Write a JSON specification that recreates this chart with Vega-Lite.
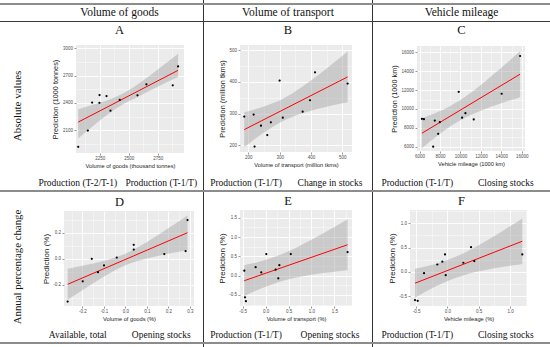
{
"$schema":"https://vega.github.io/schema/vega-lite/v6.json",
"padding":0,
"background":"white",
"spacing":0,
"datasets":{
"pts":[
{"p":"A","x":2064,"y":1918},{"p":"A","x":2147,"y":2096},{"p":"A","x":2184,"y":2403},{"p":"A","x":2247,"y":2400},{"p":"A","x":2248,"y":2486},{"p":"A","x":2308,"y":2475},{"p":"A","x":2342,"y":2314},{"p":"A","x":2422,"y":2432},{"p":"A","x":2575,"y":2483},{"p":"A","x":2652,"y":2603},{"p":"A","x":2879,"y":2593},{"p":"A","x":2925,"y":2800},
{"p":"B","x":187,"y":290.5},{"p":"B","x":217,"y":297},{"p":"B","x":220,"y":196},{"p":"B","x":240.5,"y":262},{"p":"B","x":260.6,"y":232.5},{"p":"B","x":272,"y":272.5},{"p":"B","x":300,"y":404},{"p":"B","x":310,"y":287},{"p":"B","x":373.5,"y":306},{"p":"B","x":397,"y":342},{"p":"B","x":413,"y":430},{"p":"B","x":517,"y":394.6},
{"p":"C","x":6234,"y":8952},{"p":"C","x":6430,"y":8910},{"p":"C","x":7493,"y":8772},{"p":"C","x":7337,"y":6000},{"p":"C","x":7825,"y":7365},{"p":"C","x":7981,"y":8593},{"p":"C","x":9835,"y":11820},{"p":"C","x":10166,"y":9069},{"p":"C","x":10488,"y":9556},{"p":"C","x":11301,"y":8888},{"p":"C","x":14030,"y":11609},{"p":"C","x":15834,"y":15608},
{"p":"D","x":-0.268,"y":-0.327},{"p":"D","x":-0.198,"y":-0.172},{"p":"D","x":-0.156,"y":0.0},{"p":"D","x":-0.127,"y":-0.102},{"p":"D","x":-0.099,"y":-0.051},{"p":"D","x":-0.04,"y":0.01},{"p":"D","x":0.039,"y":0.107},{"p":"D","x":0.039,"y":0.071},{"p":"D","x":0.181,"y":0.036},{"p":"D","x":0.28,"y":0.059},{"p":"D","x":0.289,"y":0.297},
{"p":"E","x":-0.465,"y":0.13},{"p":"E","x":-0.45,"y":-0.56},{"p":"E","x":-0.43,"y":-0.66},{"p":"E","x":-0.218,"y":0.22},{"p":"E","x":-0.094,"y":0.085},{"p":"E","x":0.015,"y":0.56},{"p":"E","x":0.218,"y":0.155},{"p":"E","x":0.3,"y":0.27},{"p":"E","x":0.277,"y":-0.07},{"p":"E","x":0.55,"y":0.56},{"p":"E","x":1.79,"y":0.61},
{"p":"F","x":-0.516,"y":-0.583},{"p":"F","x":-0.473,"y":-0.6},{"p":"F","x":-0.372,"y":-0.03},{"p":"F","x":-0.16,"y":0.15},{"p":"F","x":-0.08,"y":0.207},{"p":"F","x":-0.037,"y":0.357},{"p":"F","x":-0.026,"y":-0.07},{"p":"F","x":0.255,"y":0.186},{"p":"F","x":0.378,"y":0.508},{"p":"F","x":0.43,"y":0.22},{"p":"F","x":1.196,"y":0.357}
],
"fit":[
{"p":"A","x":2064,"y":2189},{"p":"A","x":2925,"y":2757},
{"p":"B","x":187,"y":249.5},{"p":"B","x":517,"y":415.5},
{"p":"C","x":6234,"y":7430},{"p":"C","x":15834,"y":13683},
{"p":"D","x":-0.268,"y":-0.195},{"p":"D","x":0.289,"y":0.2},
{"p":"E","x":-0.465,"y":-0.13},{"p":"E","x":1.79,"y":0.8},
{"p":"F","x":-0.516,"y":-0.236},{"p":"F","x":1.196,"y":0.63}
],
"band":[
{"p":"A","x":2064,"lo":2010,"hi":2330},{"p":"A","x":2150,"lo":2101,"hi":2362},{"p":"A","x":2250,"lo":2206,"hi":2401},{"p":"A","x":2350,"lo":2303,"hi":2446},{"p":"A","x":2450,"lo":2384,"hi":2504},{"p":"A","x":2550,"lo":2449,"hi":2580},{"p":"A","x":2650,"lo":2513,"hi":2670},{"p":"A","x":2750,"lo":2576,"hi":2766},{"p":"A","x":2850,"lo":2639,"hi":2865},{"p":"A","x":2925,"lo":2685,"hi":2940},
{"p":"B","x":187,"lo":194.5,"hi":304.5},{"p":"B","x":220,"lo":219.2,"hi":313},{"p":"B","x":250,"lo":240.3,"hi":322.1},{"p":"B","x":280,"lo":259.5,"hi":333.1},{"p":"B","x":309,"lo":275.5,"hi":346.3},{"p":"B","x":340,"lo":289.5,"hi":363.5},{"p":"B","x":380,"lo":303.5,"hi":389.7},{"p":"B","x":420,"lo":314.5,"hi":418.9},{"p":"B","x":460,"lo":323.8,"hi":449.8},{"p":"B","x":517,"lo":335.5,"hi":495.5},
{"p":"C","x":6234,"lo":5845,"hi":9015},{"p":"C","x":7000,"lo":6530,"hi":9328},{"p":"C","x":8000,"lo":7376,"hi":9784},{"p":"C","x":9000,"lo":8143,"hi":10321},{"p":"C","x":9580,"lo":8540,"hi":10680},{"p":"C","x":10500,"lo":9092,"hi":11326},{"p":"C","x":11500,"lo":9597,"hi":12123},{"p":"C","x":12500,"lo":10033,"hi":12990},{"p":"C","x":13500,"lo":10425,"hi":13901},{"p":"C","x":14500,"lo":10789,"hi":14840},{"p":"C","x":15834,"lo":11249,"hi":16117},
{"p":"D","x":-0.268,"lo":-0.314,"hi":-0.076},{"p":"D","x":-0.2,"lo":-0.2402,"hi":-0.0534},{"p":"D","x":-0.12,"lo":-0.156,"hi":-0.0242},{"p":"D","x":-0.05,"lo":-0.0891,"hi":0.0081},{"p":"D","x":0.0,"lo":-0.0497,"hi":0.0397},{"p":"D","x":0.06,"lo":-0.0149,"hi":0.0899},{"p":"D","x":0.13,"lo":0.0148,"hi":0.1594},{"p":"D","x":0.21,"lo":0.043,"hi":0.2448},{"p":"D","x":0.289,"lo":0.0685,"hi":0.3315},
{"p":"E","x":-0.465,"lo":-0.53,"hi":0.27},{"p":"E","x":-0.3,"lo":-0.4363,"hi":0.3125},{"p":"E","x":-0.1,"lo":-0.3322,"hi":0.3734},{"p":"E","x":0.136,"lo":-0.2256,"hi":0.4614},{"p":"E","x":0.4,"lo":-0.1283,"hi":0.5819},{"p":"E","x":0.7,"lo":-0.0433,"hi":0.7445},{"p":"E","x":1.0,"lo":0.0215,"hi":0.9273},{"p":"E","x":1.3,"lo":0.0726,"hi":1.1236},{"p":"E","x":1.55,"lo":0.1086,"hi":1.294},{"p":"E","x":1.79,"lo":0.1387,"hi":1.4613},
{"p":"F","x":-0.516,"lo":-0.5361,"hi":0.0641},{"p":"F","x":-0.35,"lo":-0.4136,"hi":0.1096},{"p":"F","x":-0.15,"lo":-0.2793,"hi":0.1775},{"p":"F","x":0.054,"lo":-0.1636,"hi":0.2682},{"p":"F","x":0.25,"lo":-0.0761,"hi":0.3789},{"p":"F","x":0.45,"lo":-0.0073,"hi":0.5125},{"p":"F","x":0.65,"lo":0.047,"hi":0.6604},{"p":"F","x":0.85,"lo":0.0925,"hi":0.8173},{"p":"F","x":1.05,"lo":0.1327,"hi":0.9795},{"p":"F","x":1.196,"lo":0.1599,"hi":1.1001}
]
},
"vconcat":[
{"hconcat":[
 {"width":36,"height":3,"data":{"values":[]},"mark":"point"},
 {"width":167,"height":3,"data":{"values":[]},"mark":"point"},
 {"width":1,"height":3,"view":{"fill":"#333333"},"data":{"values":[]},"mark":"point"},
 {"width":168,"height":3,"data":{"values":[]},"mark":"point"},
 {"width":1,"height":3,"view":{"fill":"#333333"},"data":{"values":[]},"mark":"point"},
 {"width":177,"height":3,"data":{"values":[]},"mark":"point"}
],"spacing":0,"bounds":"flush"},
{"width":550,"height":2,"view":{"fill":"#8c8c8c"},"data":{"values":[]},"mark":"point"},
{"hconcat":[
 {"width":36,"height":16,"data":{"values":[]},"mark":"point"},
 {"width":167,"height":16,"data":{"values":[{"t":"Volume of goods"}]},"mark":{"type":"text","font":"Liberation Serif","fontSize":11.5},"encoding":{"text":{"field":"t"}}},
 {"width":1,"height":16,"view":{"fill":"#333333"},"data":{"values":[]},"mark":"point"},
 {"width":168,"height":16,"data":{"values":[{"t":"Volume of transport"}]},"mark":{"type":"text","font":"Liberation Serif","fontSize":11.5},"encoding":{"text":{"field":"t"}}},
 {"width":1,"height":16,"view":{"fill":"#333333"},"data":{"values":[]},"mark":"point"},
 {"width":177,"height":16,"data":{"values":[{"t":"Vehicle mileage"}]},"mark":{"type":"text","font":"Liberation Serif","fontSize":11.5},"encoding":{"text":{"field":"t"}}}
],"spacing":0,"bounds":"flush"},
{"width":550,"height":1,"view":{"fill":"#3a3a3a"},"data":{"values":[]},"mark":"point"},
{"hconcat":[
 {"width":36,"height":168,"data":{"values":[{"t":"Absolute values"}]},"mark":{"type":"text","font":"Liberation Serif","fontSize":11,"angle":270},"encoding":{"text":{"field":"t"}}},
 {"vconcat":[
  {"width":167,"height":23,"data":{"values":[{"t":"A"}]},"mark":{"type":"text","font":"Liberation Serif","fontSize":12.5,"baseline":"alphabetic"},"encoding":{"text":{"field":"t"}}},
  {"hconcat":[
   {"width":40,"height":131,"data":{"values":[]},"mark":"point"},
   {"width":108,"height":108,"view":{"fill":"#ebebeb"},"resolve":{"axis":{"x":"independent","y":"independent"}},
    "layer":[
     {"data":{"name":"band"},"transform":[{"filter":"datum.p=='A'"}],"mark":{"type":"area","color":"#999999","opacity":0.4,"interpolate":"monotone"},
      "encoding":{"x":{"field":"x","type":"quantitative","scale":{"domain":[2045,2976],"nice":false,"zero":false},"axis":{"orient":"top","values":[2125,2375,2625,2875],"grid":true,"gridWidth":0.4,"labels":false,"ticks":false,"domain":false,"title":null,"minExtent":0}},
       "y":{"field":"hi","type":"quantitative","scale":{"domain":[1850,3035],"nice":false,"zero":false},"axis":{"orient":"right","values":[1950,2250,2550,2850],"grid":true,"gridWidth":0.4,"labels":false,"ticks":false,"domain":false,"title":null,"minExtent":0}},
       "y2":{"field":"lo"}}},
     {"data":{"name":"fit"},"transform":[{"filter":"datum.p=='A'"}],"mark":{"type":"line","color":"#ff0000","strokeWidth":1},
      "encoding":{"x":{"field":"x","type":"quantitative","scale":{"domain":[2045,2976],"nice":false,"zero":false},"axis":null},"y":{"field":"y","type":"quantitative","scale":{"domain":[1850,3035],"nice":false,"zero":false},"axis":null}}},
     {"data":{"name":"pts"},"transform":[{"filter":"datum.p=='A'"}],"mark":{"type":"circle","color":"#000000","size":5,"opacity":1},
      "encoding":{"x":{"field":"x","type":"quantitative","scale":{"domain":[2045,2976],"nice":false,"zero":false},"axis":{"orient":"bottom","values":[2250,2500,2750],"format":"d","grid":true,"title":"Volume of goods (thousand tonnes)"}},
       "y":{"field":"y","type":"quantitative","scale":{"domain":[1850,3035],"nice":false,"zero":false},"axis":{"orient":"left","values":[2100,2400,2700,3000],"format":"d","grid":true,"title":"Prediction (1000 tonnes)","titleFontSize":7.3}}}}
    ]},
   {"width":19,"height":131,"data":{"values":[]},"mark":"point"}
  ],"spacing":0,"bounds":"flush"},
  {"width":167,"height":14,"data":{"values":[{"s":"a","t":"Production (T-2/T-1)"},{"s":"b","t":"Production (T-1/T)"}]},"mark":{"type":"text","font":"Liberation Serif","fontSize":9.5},"encoding":{"x":{"field":"s","type":"nominal","axis":null,"scale":{"type":"point","padding":0.5}},"text":{"field":"t"}}}
 ],"spacing":0},
 {"width":1,"height":168,"view":{"fill":"#333333"},"data":{"values":[]},"mark":"point"},
 {"vconcat":[
  {"width":168,"height":23,"data":{"values":[{"t":"B"}]},"mark":{"type":"text","font":"Liberation Serif","fontSize":12.5,"baseline":"alphabetic"},"encoding":{"text":{"field":"t"}}},
  {"hconcat":[
   {"width":36,"height":131,"data":{"values":[]},"mark":"point"},
   {"width":112,"height":107,"view":{"fill":"#ebebeb"},"resolve":{"axis":{"x":"independent","y":"independent"}},
    "layer":[
     {"data":{"name":"band"},"transform":[{"filter":"datum.p=='B'"}],"mark":{"type":"area","color":"#999999","opacity":0.4,"interpolate":"monotone"},
      "encoding":{"x":{"field":"x","type":"quantitative","scale":{"domain":[173.5,531],"nice":false,"zero":false},"axis":{"orient":"top","values":[250,350,450],"grid":true,"gridWidth":0.4,"labels":false,"ticks":false,"domain":false,"title":null,"minExtent":0}},
       "y":{"field":"hi","type":"quantitative","scale":{"domain":[179,516],"nice":false,"zero":false},"axis":{"orient":"right","values":[250,350,450],"grid":true,"gridWidth":0.4,"labels":false,"ticks":false,"domain":false,"title":null,"minExtent":0}},
       "y2":{"field":"lo"}}},
     {"data":{"name":"fit"},"transform":[{"filter":"datum.p=='B'"}],"mark":{"type":"line","color":"#ff0000","strokeWidth":1},
      "encoding":{"x":{"field":"x","type":"quantitative","scale":{"domain":[173.5,531],"nice":false,"zero":false},"axis":null},"y":{"field":"y","type":"quantitative","scale":{"domain":[179,516],"nice":false,"zero":false},"axis":null}}},
     {"data":{"name":"pts"},"transform":[{"filter":"datum.p=='B'"}],"mark":{"type":"circle","color":"#000000","size":5,"opacity":1},
      "encoding":{"x":{"field":"x","type":"quantitative","scale":{"domain":[173.5,531],"nice":false,"zero":false},"axis":{"orient":"bottom","values":[200,300,400,500],"format":"d","grid":true,"title":"Volume of transport (million tkms)"}},
       "y":{"field":"y","type":"quantitative","scale":{"domain":[179,516],"nice":false,"zero":false},"axis":{"orient":"left","values":[200,300,400,500],"format":"d","grid":true,"title":"Prediction (million tkms)","titleFontSize":7.3}}}}
    ]},
   {"width":20,"height":131,"data":{"values":[]},"mark":"point"}
  ],"spacing":0,"bounds":"flush"},
  {"width":168,"height":14,"data":{"values":[{"s":"a","t":"Production (T-1/T)"},{"s":"b","t":"Change in stocks"}]},"mark":{"type":"text","font":"Liberation Serif","fontSize":9.5},"encoding":{"x":{"field":"s","type":"nominal","axis":null,"scale":{"type":"point","padding":0.5}},"text":{"field":"t"}}}
 ],"spacing":0},
 {"width":1,"height":168,"view":{"fill":"#333333"},"data":{"values":[]},"mark":"point"},
 {"vconcat":[
  {"width":177,"height":24,"data":{"values":[{"t":"C"}]},"mark":{"type":"text","font":"Liberation Serif","fontSize":12.5,"baseline":"alphabetic"},"encoding":{"text":{"field":"t"}}},
  {"hconcat":[
   {"width":44,"height":130,"data":{"values":[]},"mark":"point"},
   {"width":108,"height":105,"view":{"fill":"#ebebeb"},"resolve":{"axis":{"x":"independent","y":"independent"}},
    "layer":[
     {"data":{"name":"band"},"transform":[{"filter":"datum.p=='C'"}],"mark":{"type":"area","color":"#999999","opacity":0.4,"interpolate":"monotone"},
      "encoding":{"x":{"field":"x","type":"quantitative","scale":{"domain":[5754,16314],"nice":false,"zero":false},"axis":{"orient":"top","values":[7000,9000,11000,13000,15000],"grid":true,"gridWidth":0.4,"labels":false,"ticks":false,"domain":false,"title":null,"minExtent":0}},
       "y":{"field":"hi","type":"quantitative","scale":{"domain":[5545,16667],"nice":false,"zero":false},"axis":{"orient":"right","values":[7000,9000,11000,13000,15000],"grid":true,"gridWidth":0.4,"labels":false,"ticks":false,"domain":false,"title":null,"minExtent":0}},
       "y2":{"field":"lo"}}},
     {"data":{"name":"fit"},"transform":[{"filter":"datum.p=='C'"}],"mark":{"type":"line","color":"#ff0000","strokeWidth":1},
      "encoding":{"x":{"field":"x","type":"quantitative","scale":{"domain":[5754,16314],"nice":false,"zero":false},"axis":null},"y":{"field":"y","type":"quantitative","scale":{"domain":[5545,16667],"nice":false,"zero":false},"axis":null}}},
     {"data":{"name":"pts"},"transform":[{"filter":"datum.p=='C'"}],"mark":{"type":"circle","color":"#000000","size":5,"opacity":1},
      "encoding":{"x":{"field":"x","type":"quantitative","scale":{"domain":[5754,16314],"nice":false,"zero":false},"axis":{"orient":"bottom","values":[6000,8000,10000,12000,14000,16000],"format":"d","grid":true,"title":"Vehicle mileage (1000 km)"}},
       "y":{"field":"y","type":"quantitative","scale":{"domain":[5545,16667],"nice":false,"zero":false},"axis":{"orient":"left","values":[6000,8000,10000,12000,14000,16000],"format":"d","grid":true,"title":"Prediction (1000 km)","titleFontSize":7.3}}}}
    ]},
   {"width":25,"height":130,"data":{"values":[]},"mark":"point"}
  ],"spacing":0,"bounds":"flush"},
  {"width":177,"height":14,"data":{"values":[{"s":"a","t":"Production (T-1/T)"},{"s":"b","t":"Closing stocks"}]},"mark":{"type":"text","font":"Liberation Serif","fontSize":9.5},"encoding":{"x":{"field":"s","type":"nominal","axis":null,"scale":{"type":"point","padding":0.5}},"text":{"field":"t"}}}
 ],"spacing":0}
],"spacing":0},
{"width":550,"height":2,"view":{"fill":"#8c8c8c"},"data":{"values":[]},"mark":"point"},
{"hconcat":[
 {"width":36,"height":150,"data":{"values":[{"t":"Annual percentage change"}]},"mark":{"type":"text","font":"Liberation Serif","fontSize":10.8,"angle":270},"encoding":{"text":{"field":"t"}}},
 {"vconcat":[
  {"width":167,"height":19,"data":{"values":[{"t":"D"}]},"mark":{"type":"text","font":"Liberation Serif","fontSize":12.5,"baseline":"middle"},"encoding":{"text":{"field":"t"}}},
  {"hconcat":[
   {"width":28,"height":117,"data":{"values":[]},"mark":"point"},
   {"width":130,"height":95,"view":{"fill":"#ebebeb"},"resolve":{"axis":{"x":"independent","y":"independent"}},
    "layer":[
     {"data":{"name":"band"},"transform":[{"filter":"datum.p=='D'"}],"mark":{"type":"area","color":"#999999","opacity":0.4,"interpolate":"monotone"},
      "encoding":{"x":{"field":"x","type":"quantitative","scale":{"domain":[-0.285,0.319],"nice":false,"zero":false},"axis":{"orient":"top","values":[-0.25,-0.15,-0.05,0.05,0.15,0.25],"grid":true,"gridWidth":0.4,"labels":false,"ticks":false,"domain":false,"title":null,"minExtent":0}},
       "y":{"field":"hi","type":"quantitative","scale":{"domain":[-0.361,0.366],"nice":false,"zero":false},"axis":{"orient":"right","values":[-0.3,-0.1,0.1,0.3],"grid":true,"gridWidth":0.4,"labels":false,"ticks":false,"domain":false,"title":null,"minExtent":0}},
       "y2":{"field":"lo"}}},
     {"data":{"name":"fit"},"transform":[{"filter":"datum.p=='D'"}],"mark":{"type":"line","color":"#ff0000","strokeWidth":1},
      "encoding":{"x":{"field":"x","type":"quantitative","scale":{"domain":[-0.285,0.319],"nice":false,"zero":false},"axis":null},"y":{"field":"y","type":"quantitative","scale":{"domain":[-0.361,0.366],"nice":false,"zero":false},"axis":null}}},
     {"data":{"name":"pts"},"transform":[{"filter":"datum.p=='D'"}],"mark":{"type":"circle","color":"#000000","size":5,"opacity":1},
      "encoding":{"x":{"field":"x","type":"quantitative","scale":{"domain":[-0.285,0.319],"nice":false,"zero":false},"axis":{"orient":"bottom","values":[-0.2,-0.1,0,0.1,0.2,0.3],"labelExpr":"replace(format(datum.value, '.1f'), '\u2212', '-')","grid":true,"title":"Volume of goods (%)"}},
       "y":{"field":"y","type":"quantitative","scale":{"domain":[-0.361,0.366],"nice":false,"zero":false},"axis":{"orient":"left","values":[-0.2,0,0.2],"labelExpr":"replace(format(datum.value, '.1f'), '\u2212', '-')","grid":true,"title":"Prediction (%)","titleFontSize":8}}}}
    ]},
   {"width":9,"height":117,"data":{"values":[]},"mark":"point"}
  ],"spacing":0,"bounds":"flush"},
  {"width":167,"height":14,"data":{"values":[{"s":"a","t":"Available, total"},{"s":"b","t":"Opening stocks"}]},"mark":{"type":"text","font":"Liberation Serif","fontSize":9.5},"encoding":{"x":{"field":"s","type":"nominal","axis":null,"scale":{"type":"point","padding":0.5}},"text":{"field":"t"}}}
 ],"spacing":0},
 {"width":1,"height":150,"view":{"fill":"#333333"},"data":{"values":[]},"mark":"point"},
 {"vconcat":[
  {"width":168,"height":18,"data":{"values":[{"t":"E"}]},"mark":{"type":"text","font":"Liberation Serif","fontSize":12.5,"baseline":"middle"},"encoding":{"text":{"field":"t"}}},
  {"hconcat":[
   {"width":36,"height":118,"data":{"values":[]},"mark":"point"},
   {"width":112,"height":96,"view":{"fill":"#ebebeb"},"resolve":{"axis":{"x":"independent","y":"independent"}},
    "layer":[
     {"data":{"name":"band"},"transform":[{"filter":"datum.p=='E'"}],"mark":{"type":"area","color":"#999999","opacity":0.4,"interpolate":"monotone"},
      "encoding":{"x":{"field":"x","type":"quantitative","scale":{"domain":[-0.559,1.886],"nice":false,"zero":false},"axis":{"orient":"top","values":[-0.25,0.25,0.75,1.25,1.75],"grid":true,"gridWidth":0.4,"labels":false,"ticks":false,"domain":false,"title":null,"minExtent":0}},
       "y":{"field":"hi","type":"quantitative","scale":{"domain":[-0.785,1.699],"nice":false,"zero":false},"axis":{"orient":"right","values":[-0.75,-0.25,0.25,0.75,1.25],"grid":true,"gridWidth":0.4,"labels":false,"ticks":false,"domain":false,"title":null,"minExtent":0}},
       "y2":{"field":"lo"}}},
     {"data":{"name":"fit"},"transform":[{"filter":"datum.p=='E'"}],"mark":{"type":"line","color":"#ff0000","strokeWidth":1},
      "encoding":{"x":{"field":"x","type":"quantitative","scale":{"domain":[-0.559,1.886],"nice":false,"zero":false},"axis":null},"y":{"field":"y","type":"quantitative","scale":{"domain":[-0.785,1.699],"nice":false,"zero":false},"axis":null}}},
     {"data":{"name":"pts"},"transform":[{"filter":"datum.p=='E'"}],"mark":{"type":"circle","color":"#000000","size":5,"opacity":1},
      "encoding":{"x":{"field":"x","type":"quantitative","scale":{"domain":[-0.559,1.886],"nice":false,"zero":false},"axis":{"orient":"bottom","values":[-0.5,0,0.5,1,1.5],"labelExpr":"replace(format(datum.value, '.1f'), '\u2212', '-')","grid":true,"title":"Volume of transport (%)"}},
       "y":{"field":"y","type":"quantitative","scale":{"domain":[-0.785,1.699],"nice":false,"zero":false},"axis":{"orient":"left","values":[-0.5,0,0.5,1,1.5],"labelExpr":"replace(format(datum.value, '.1f'), '\u2212', '-')","grid":true,"title":"Prediction (%)","titleFontSize":8}}}}
    ]},
   {"width":20,"height":118,"data":{"values":[]},"mark":"point"}
  ],"spacing":0,"bounds":"flush"},
  {"width":168,"height":14,"data":{"values":[{"s":"a","t":"Production (T-1/T)"},{"s":"b","t":"Opening stocks"}]},"mark":{"type":"text","font":"Liberation Serif","fontSize":9.5},"encoding":{"x":{"field":"s","type":"nominal","axis":null,"scale":{"type":"point","padding":0.5}},"text":{"field":"t"}}}
 ],"spacing":0},
 {"width":1,"height":150,"view":{"fill":"#333333"},"data":{"values":[]},"mark":"point"},
 {"vconcat":[
  {"width":177,"height":18,"data":{"values":[{"t":"F"}]},"mark":{"type":"text","font":"Liberation Serif","fontSize":12.5,"baseline":"middle"},"encoding":{"text":{"field":"t"}}},
  {"hconcat":[
   {"width":37,"height":118,"data":{"values":[]},"mark":"point"},
   {"width":117,"height":96,"view":{"fill":"#ebebeb"},"resolve":{"axis":{"x":"independent","y":"independent"}},
    "layer":[
     {"data":{"name":"band"},"transform":[{"filter":"datum.p=='F'"}],"mark":{"type":"area","color":"#999999","opacity":0.4,"interpolate":"monotone"},
      "encoding":{"x":{"field":"x","type":"quantitative","scale":{"domain":[-0.596,1.271],"nice":false,"zero":false},"axis":{"orient":"top","values":[-0.25,0.25,0.75,1.25],"grid":true,"gridWidth":0.4,"labels":false,"ticks":false,"domain":false,"title":null,"minExtent":0}},
       "y":{"field":"hi","type":"quantitative","scale":{"domain":[-0.706,1.274],"nice":false,"zero":false},"axis":{"orient":"right","values":[-0.25,0.25,0.75,1.25],"grid":true,"gridWidth":0.4,"labels":false,"ticks":false,"domain":false,"title":null,"minExtent":0}},
       "y2":{"field":"lo"}}},
     {"data":{"name":"fit"},"transform":[{"filter":"datum.p=='F'"}],"mark":{"type":"line","color":"#ff0000","strokeWidth":1},
      "encoding":{"x":{"field":"x","type":"quantitative","scale":{"domain":[-0.596,1.271],"nice":false,"zero":false},"axis":null},"y":{"field":"y","type":"quantitative","scale":{"domain":[-0.706,1.274],"nice":false,"zero":false},"axis":null}}},
     {"data":{"name":"pts"},"transform":[{"filter":"datum.p=='F'"}],"mark":{"type":"circle","color":"#000000","size":5,"opacity":1},
      "encoding":{"x":{"field":"x","type":"quantitative","scale":{"domain":[-0.596,1.271],"nice":false,"zero":false},"axis":{"orient":"bottom","values":[-0.5,0,0.5,1],"labelExpr":"replace(format(datum.value, '.1f'), '\u2212', '-')","grid":true,"title":"Vehicle mileage (%)"}},
       "y":{"field":"y","type":"quantitative","scale":{"domain":[-0.706,1.274],"nice":false,"zero":false},"axis":{"orient":"left","values":[-0.5,0,0.5,1],"labelExpr":"replace(format(datum.value, '.1f'), '\u2212', '-')","grid":true,"title":"Prediction (%)","titleFontSize":8}}}}
    ]},
   {"width":23,"height":118,"data":{"values":[]},"mark":"point"}
  ],"spacing":0,"bounds":"flush"},
  {"width":177,"height":14,"data":{"values":[{"s":"a","t":"Production (T-1/T)"},{"s":"b","t":"Closing stocks"}]},"mark":{"type":"text","font":"Liberation Serif","fontSize":9.5},"encoding":{"x":{"field":"s","type":"nominal","axis":null,"scale":{"type":"point","padding":0.5}},"text":{"field":"t"}}}
 ],"spacing":0}
],"spacing":0},
{"width":550,"height":2,"view":{"fill":"#8c8c8c"},"data":{"values":[]},"mark":"point"},
{"hconcat":[
 {"width":36,"height":3,"data":{"values":[]},"mark":"point"},
 {"width":167,"height":3,"data":{"values":[]},"mark":"point"},
 {"width":1,"height":3,"view":{"fill":"#333333"},"data":{"values":[]},"mark":"point"},
 {"width":168,"height":3,"data":{"values":[]},"mark":"point"},
 {"width":1,"height":3,"view":{"fill":"#333333"},"data":{"values":[]},"mark":"point"},
 {"width":177,"height":3,"data":{"values":[]},"mark":"point"}
],"spacing":0,"bounds":"flush"}
],
"config":{
 "view":{"stroke":null},
 "concat":{"spacing":0},
 "axis":{"domain":false,"minExtent":0,"labelFont":"Liberation Sans","labelFontSize":4.5,"labelColor":"#4d4d4d","labelPadding":1.5,"tickColor":"#333333","tickSize":2,"tickWidth":0.5,"titleFont":"Liberation Sans","titleFontWeight":"normal","titleColor":"#1a1a1a","titlePadding":2.5,"gridColor":"#ffffff","gridWidth":0.9,"labelFlush":false,"labelOverlap":false},
 "axisX":{"titleFontSize":5.7,"labelPadding":0.5},
 "axisY":{"titleFontSize":7.3},
 "text":{"color":"#111111"}
}
}
